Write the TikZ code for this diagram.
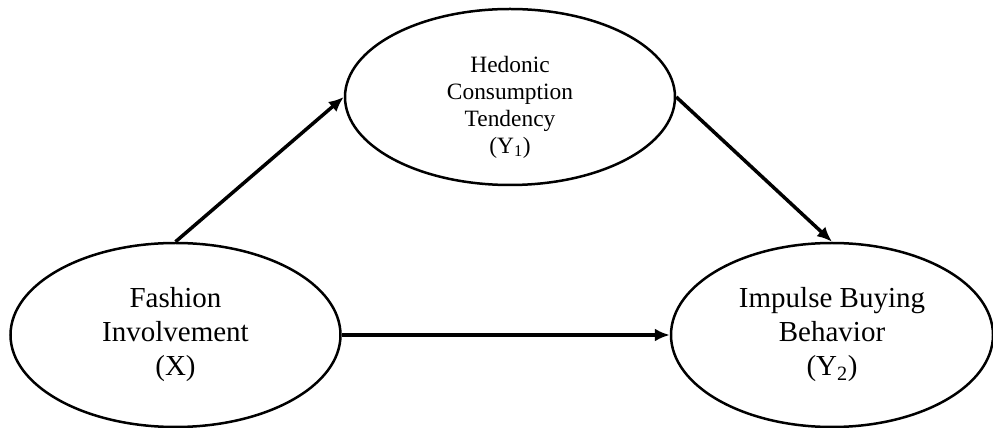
\documentclass[tikz,border=0pt]{standalone}
\usepackage{fontspec}
\setmainfont{Liberation Serif}
\usepackage{tikz}
\usetikzlibrary{arrows.meta}
\usetikzlibrary{shapes.geometric}
\usetikzlibrary{positioning}

\begin{document}
\begin{tikzpicture}[x=1pt,y=1pt,
        var/.style={draw,ellipse,line width=2.5pt,inner sep=0pt,align=center,
            minimum width=330pt,minimum height=184pt,font=\fontsize{29}{34}\selectfont},
        path/.style={-{Latex[length=15pt,width=13pt]},line width=3.5pt}]
        \useasboundingbox (0,0) rectangle (993,428);

        \node [var] (fashion) at (175.5,93) {Fashion\\Involvement\\(X)};
        \node [var,minimum height=176pt,font=\fontsize{23.4}{27}\selectfont] (hedonic) at (510,331) {\rule{0pt}{36pt}Hedonic\\Consumption\\Tendency\\(Y\textsubscript{1})};
        \node [var,minimum width=322pt] (impulse) at (832,93) {Impulse Buying\\Behavior\\(Y\textsubscript{2})};

        \draw [path] (fashion.north) -- (hedonic.west);
        \draw [path] (hedonic.east) -- (impulse.north);
        \draw [path] (fashion.east) -- (impulse.west);
    \end{tikzpicture}
\end{document}
